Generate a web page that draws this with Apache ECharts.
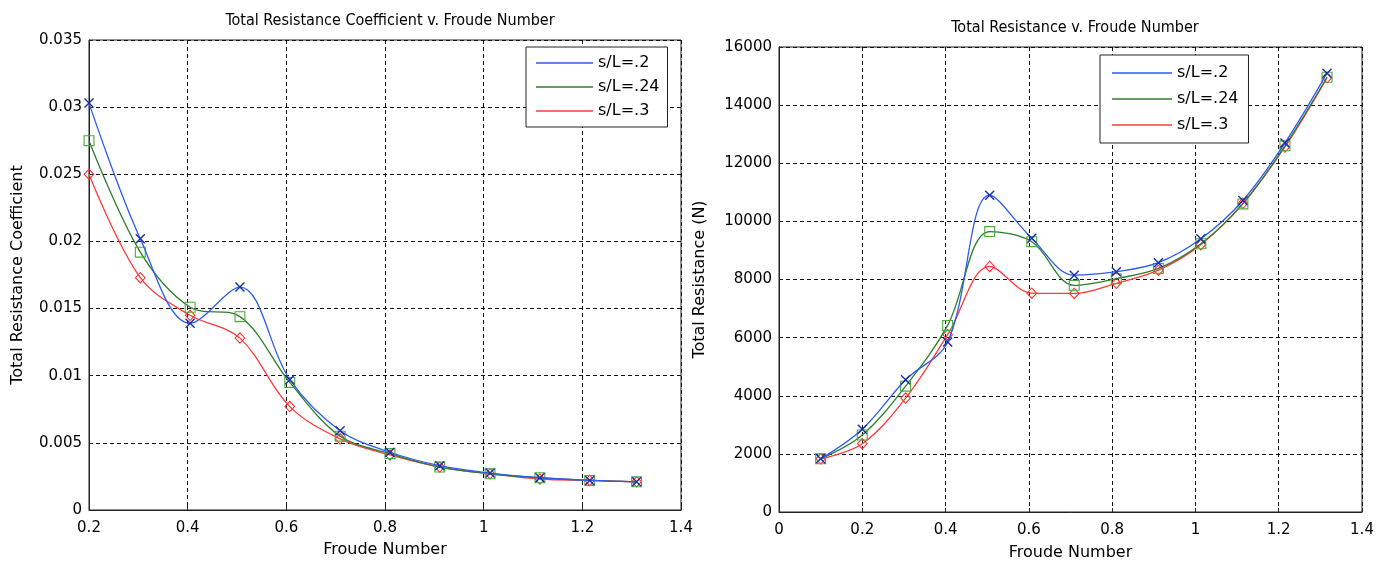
<!DOCTYPE html>
<html>
<head>
<meta charset="utf-8">
<script src="https://cdn.jsdelivr.net/npm/echarts@6/dist/echarts.min.js"></script>
<style>
html,body{margin:0;padding:0;background:#fff;}
#chart{width:1391px;height:566px;}
</style>
</head>
<body>
<div id="chart"></div>
<script>
// ---- data ----
const seriesNames = ['s/L=.2', 's/L=.24', 's/L=.3'];
const froudeCoef = [0.2, 0.304, 0.405, 0.506, 0.607, 0.709, 0.81, 0.911, 1.013, 1.114, 1.215, 1.31];
const coefSL20 = [0.0303, 0.0202, 0.0139, 0.0166, 0.0097, 0.0059, 0.0043, 0.0033, 0.00275, 0.0024, 0.0022, 0.0021];
const coefSL24 = [0.0275, 0.0192, 0.0151, 0.0144, 0.0095, 0.0055, 0.0042, 0.0032, 0.0027, 0.0024, 0.0022, 0.0021];
const coefSL30 = [0.0250, 0.0173, 0.0145, 0.0128, 0.0077, 0.0053, 0.0041, 0.0032, 0.0027, 0.0023, 0.0022, 0.0021];

const froudeRes = [0.1, 0.2, 0.304, 0.405, 0.506, 0.607, 0.709, 0.81, 0.911, 1.013, 1.114, 1.215, 1.316];
const resSL20 = [1830, 2850, 4550, 5850, 10900, 9420, 8150, 8270, 8580, 9400, 10720, 12700, 15100];
const resSL24 = [1830, 2650, 4330, 6420, 9650, 9300, 7800, 8030, 8380, 9230, 10600, 12600, 14960];
const resSL30 = [1830, 2350, 3920, 6100, 8450, 7530, 7520, 7870, 8320, 9200, 10620, 12560, 14940];

const titles = ['Total Resistance Coefficient v. Froude Number', 'Total Resistance v. Froude Number'];
const xName = 'Froude Number';
const yNames = ['Total Resistance Coefficient', 'Total Resistance (N)'];

// ---- styling ----
const FONT = 'DejaVu Sans';
const TITLE_FONT = "'Liberation Sans Narrow', 'Arial Narrow', 'DejaVu Sans Condensed', 'Liberation Sans'";
const colors = ['#2a5cf0', '#2f7d2c', '#ff3b3b'];
const markerColors = ['#1b2fa8', '#4cab3c', '#ff3030'];
const symCross = 'path://M0,0L10,10M10,0L0,10';
const symSquare = 'path://M0,0H10V10H0ZM1,1V9H9V1Z';
const symDiamond = 'path://M5,0L10,6L5,12L0,6ZM5,1.6L1.3,6L5,10.4L8.7,6Z';
const symbols = [symCross, symSquare, symDiamond];
const symbolSizes = [[9, 9], [11, 11], [11, 12]];

function zip(xs, ys) { return xs.map((x, i) => [x, ys[i]]); }

function mkSeries(idx, gridIdx, xs, ys) {
  const isCross = idx === 0;
  return {
    name: seriesNames[idx],
    type: 'line',
    xAxisIndex: gridIdx,
    yAxisIndex: gridIdx,
    data: zip(xs, ys),
    smooth: 0.35,
    symbol: symbols[idx],
    symbolSize: symbolSizes[idx],
    showAllSymbol: true,
    lineStyle: { color: colors[idx], width: 1.3 },
    itemStyle: isCross
      ? { color: markerColors[idx], borderColor: markerColors[idx], borderWidth: 1.4 }
      : { color: markerColors[idx], borderWidth: 0 },
    emphasis: { disabled: true },
    z: 3 - idx + 2
  };
}

const axisLabelStyle = { fontFamily: FONT, fontSize: 15, color: '#000' };
const splitLine = { show: true, lineStyle: { color: '#111', type: [4, 3], width: 1 } };
const axisLine = { show: true, lineStyle: { color: '#222', width: 1 } };
const axisTick = { show: true, inside: true, length: 4, lineStyle: { color: '#222' } };

function legendCfg(left, top, itemWidth, gap, pad) {
  return {
    show: true,
    orient: 'vertical',
    left: left, top: top,
    data: seriesNames.map((n, i) => ({
      name: n, icon: 'rect',
      itemStyle: { color: colors[i], borderWidth: 0, borderColor: 'transparent' }
    })),
    itemWidth: itemWidth, itemHeight: 1.5,
    itemGap: gap,
    padding: pad,
    backgroundColor: '#fff',
    borderColor: '#222', borderWidth: 1,
    textStyle: { fontFamily: FONT, fontSize: 16, color: '#000', lineHeight: 16 },
    selectedMode: false
  };
}

const option = {
  animation: false,
  backgroundColor: '#fff',
  title: [
    { text: titles[0], left: 385, top: 8, textAlign: 'center',
      textStyle: { fontFamily: TITLE_FONT, fontSize: 16, fontWeight: 'normal', color: '#000' } },
    { text: titles[1], left: 1070, top: 15, textAlign: 'center',
      textStyle: { fontFamily: TITLE_FONT, fontSize: 16, fontWeight: 'normal', color: '#000' } }
  ],
  legend: [
    legendCfg(526, 47, 57, 8, [8, 8, 8, 10]),
    legendCfg(1100, 55, 60, 10, [10, 10, 10, 12])
  ],
  grid: [
    { left: 89, right: 710, top: 40, bottom: 56, show: true, borderColor: '#222', borderWidth: 1 },
    { left: 779, right: 29, top: 47, bottom: 54, show: true, borderColor: '#222', borderWidth: 1 }
  ],
  xAxis: [
    { type: 'value', gridIndex: 0, min: 0.2, max: 1.4, interval: 0.2,
      name: xName, nameLocation: 'middle', nameGap: 32,
      nameTextStyle: { fontFamily: FONT, fontSize: 16, color: '#000' },
      axisLabel: Object.assign({ margin: 11, formatter: v => String(+v.toFixed(2)) }, axisLabelStyle),
      axisLine, axisTick, splitLine },
    { type: 'value', gridIndex: 1, min: 0, max: 1.4, interval: 0.2,
      name: xName, nameLocation: 'middle', nameGap: 33,
      nameTextStyle: { fontFamily: FONT, fontSize: 16, color: '#000' },
      axisLabel: Object.assign({ margin: 11, formatter: v => String(+v.toFixed(2)) }, axisLabelStyle),
      axisLine, axisTick, splitLine }
  ],
  yAxis: [
    { type: 'value', gridIndex: 0, min: 0, max: 0.035, interval: 0.005,
      name: yNames[0], nameLocation: 'middle', nameGap: 63,
      nameTextStyle: { fontFamily: FONT, fontSize: 16, color: '#000' },
      axisLabel: Object.assign({ margin: 7, formatter: v => String(+v.toFixed(3)) }, axisLabelStyle),
      axisLine, axisTick, splitLine },
    { type: 'value', gridIndex: 1, min: 0, max: 16000, interval: 2000,
      name: yNames[1], nameLocation: 'middle', nameGap: 71,
      nameTextStyle: { fontFamily: FONT, fontSize: 16, color: '#000' },
      axisLabel: Object.assign({ margin: 7, formatter: v => String(v) }, axisLabelStyle),
      axisLine, axisTick, splitLine }
  ],
  series: [
    mkSeries(0, 0, froudeCoef, coefSL20),
    mkSeries(1, 0, froudeCoef, coefSL24),
    mkSeries(2, 0, froudeCoef, coefSL30),
    mkSeries(0, 1, froudeRes, resSL20),
    mkSeries(1, 1, froudeRes, resSL24),
    mkSeries(2, 1, froudeRes, resSL30)
  ]
};

const chart = echarts.init(document.getElementById('chart'), null, { renderer: 'canvas' });
chart.setOption(option);
</script>
</body>
</html>
